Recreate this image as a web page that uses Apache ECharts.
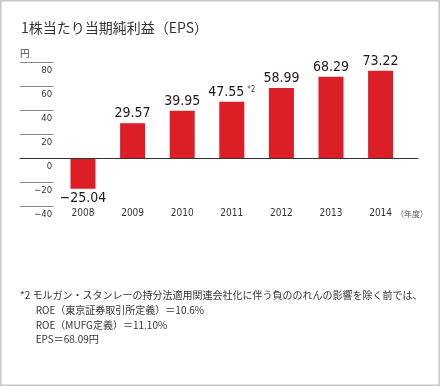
<!DOCTYPE html>
<html>
<head>
<meta charset="utf-8">
<script src="https://cdn.jsdelivr.net/npm/echarts@6/dist/echarts.min.js"></script>
<style>
html,body{margin:0;padding:0;background:#fff;}
#c{width:440px;height:386px;}
</style>
</head>
<body>
<div id="c"></div>
<script>
// ---- data ----
const years = ['2008', '2009', '2010', '2011', '2012', '2013', '2014'];
const eps = [-25.04, 29.57, 39.95, 47.55, 58.99, 68.29, 73.22];
const noteMarks = ['', '', '', '*2', '', '', ''];
const yMin = -40, yMax = 80, yStep = 20;
const titleText = '1株当たり当期純利益（EPS）';
const unitText = '円';
const xUnitText = '（年度）';
const footLines = [
  '*2 モルガン・スタンレーの持分法適用関連会社化に伴う負ののれんの影響を除く前では、',
  'ROE（東京証券取引所定義）＝10.6%',
  'ROE（MUFG定義）＝11.10%',
  'EPS＝68.09円'
];

const NUM = '"Liberation Sans Narrow","DejaVu Sans Condensed","Roboto Condensed",Roboto,sans-serif';
const CJK = '"Noto Sans CJK JP","Noto Sans",sans-serif';
const minus = s => String(s).replace('-', '\u2212');

const chart = echarts.init(document.getElementById('c'), null, {renderer: 'canvas'});

const gridTop = 62.7, gridBottom = 179.3;

const option = {
  animation: false,
  backgroundColor: '#fff',
  title: [
    {text: titleText, left: 21, top: 19, padding: 0,
     textStyle: {fontFamily: CJK, fontSize: 14, fontWeight: 'normal', color: '#333', lineHeight: 18}},
    {text: unitText, left: 20, top: 47.5, padding: 0,
     textStyle: {fontFamily: CJK, fontSize: 9.5, fontWeight: 'normal', color: '#444', lineHeight: 12}}
  ],
  grid: [
    {left: 58.2, right: 34.6, top: gridTop, bottom: gridBottom, containLabel: false},
    {left: 20, right: 22, top: gridTop, bottom: gridBottom, containLabel: false}
  ],
  xAxis: [
    {type: 'category', gridIndex: 0, data: years, position: 'bottom',
     axisLine: {show: false, onZero: false}, axisTick: {show: false}, splitLine: {show: false},
     axisLabel: {fontFamily: NUM, fontSize: 10, color: '#333', margin: 1, lineHeight: 12},
     name: xUnitText, nameLocation: 'end', nameGap: -13,
     nameTextStyle: {fontFamily: CJK, fontSize: 8, color: '#555', verticalAlign: 'top', lineHeight: 10, padding: [2, 0, 0, 0]}},
    {type: 'value', gridIndex: 1, min: 0, max: 1, z: 5,
     axisLine: {show: true, onZero: true, lineStyle: {color: '#333', width: 1}},
     axisTick: {show: false}, axisLabel: {show: false}, splitLine: {show: false}}
  ],
  yAxis: [
    {type: 'value', gridIndex: 0, min: yMin, max: yMax, interval: yStep, position: 'left', offset: 5,
     axisLine: {show: false},
     axisTick: {show: true, length: 33, lineStyle: {color: '#8a8a8a', width: 1}},
     splitLine: {show: false},
     axisLabel: {fontFamily: NUM, fontSize: 9.5, color: '#333', margin: 1, verticalAlign: 'top',
                 lineHeight: 10, padding: [3, 0, 0, 0], formatter: v => minus(v)}},
    {type: 'value', gridIndex: 1, min: yMin, max: yMax, show: true,
     axisLine: {show: false}, axisTick: {show: false}, axisLabel: {show: false}, splitLine: {show: false}}
  ],
  series: [{
    type: 'bar', xAxisIndex: 0, yAxisIndex: 0, barWidth: 25, z: 2,
    itemStyle: {color: '#dc1f27'},
    data: eps.map((v, i) => ({
      value: v,
      label: {position: v < 0 ? 'bottom' : 'top'}
    })),
    label: {
      show: true, distance: 2,
      formatter: p => '{v|' + minus(p.value.toFixed(2)) + '}' + (noteMarks[p.dataIndex] ? '{s|' + noteMarks[p.dataIndex] + '}' : ''),
      rich: {
        v: {fontFamily: NUM, fontSize: 14, color: '#231815', lineHeight: 15},
        s: {fontFamily: NUM, fontSize: 8, color: '#444', padding: [0, 0, 4, 3]}
      }
    }
  }],
  graphic: [
    {type: 'rect', silent: true, z: 100,
     shape: {x: 0.75, y: 0.75, width: 438.5, height: 384.5},
     style: {fill: null, stroke: '#c8c8c8', lineWidth: 1.5}},
    {type: 'text', left: 20, top: 290, silent: true,
     style: {text: footLines[0], font: '10px ' + CJK, fill: '#333'}},
    {type: 'text', left: 35.7, top: 305.5, silent: true,
     style: {text: footLines[1], font: '10px ' + CJK, fill: '#333'}},
    {type: 'text', left: 35.7, top: 319.8, silent: true,
     style: {text: footLines[2], font: '10px ' + CJK, fill: '#333'}},
    {type: 'text', left: 35.7, top: 334, silent: true,
     style: {text: footLines[3], font: '10px ' + CJK, fill: '#333'}}
  ]
};
chart.setOption(option);
</script>
</body>
</html>
